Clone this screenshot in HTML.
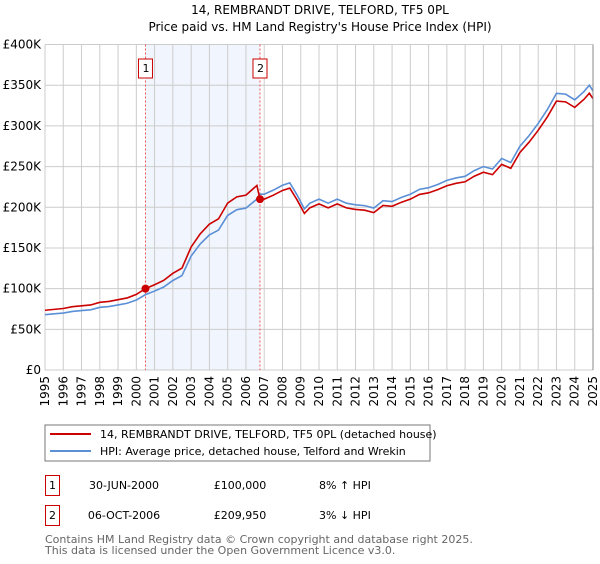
<!DOCTYPE html>
<html><head><meta charset="utf-8"><style>
body{margin:0;background:#fff;width:600px;height:560px;overflow:hidden;font-family:"DejaVu Sans","Liberation Sans",sans-serif}
svg text{font-family:"DejaVu Sans","Liberation Sans",sans-serif}
</style></head><body>
<svg id="chart" width="600" height="560">
<text x="320" y="14" text-anchor="middle" font-size="12">14, REMBRANDT DRIVE, TELFORD, TF5 0PL</text>
<text x="320" y="31" text-anchor="middle" font-size="12">Price paid vs. HM Land Registry's House Price Index (HPI)</text>
<g id="plot"></g>
<g>
<rect x="45" y="425" width="385" height="36" fill="#fff" stroke="#777"/>
<line x1="50" y1="434" x2="91" y2="434" stroke="#cc0000" stroke-width="2"/>
<text x="100" y="438" font-size="11">14, REMBRANDT DRIVE, TELFORD, TF5 0PL (detached house)</text>
<line x1="50" y1="451" x2="91" y2="451" stroke="#5b8fd6" stroke-width="2"/>
<text x="100" y="455" font-size="11">HPI: Average price, detached house, Telford and Wrekin</text>
</g>
<g font-size="11">
<rect x="45.5" y="475.5" width="14" height="20" fill="#fff" stroke="#cc0000"/>
<text x="52.5" y="489" text-anchor="middle">1</text>
<text x="124" y="489" text-anchor="middle">30-JUN-2000</text>
<text x="240" y="489" text-anchor="middle">£100,000</text>
<text x="319" y="489">8% ↑ HPI</text>
<rect x="45.5" y="505.5" width="14" height="20" fill="#fff" stroke="#cc0000"/>
<text x="52.5" y="519" text-anchor="middle">2</text>
<text x="124" y="519" text-anchor="middle">06-OCT-2006</text>
<text x="240" y="519" text-anchor="middle">£209,950</text>
<text x="319" y="519">3% ↓ HPI</text>
</g>
<text x="45" y="543" font-size="11" fill="#666">Contains HM Land Registry data © Crown copyright and database right 2025.</text>
<text x="45" y="554" font-size="11" fill="#666">This data is licensed under the Open Government Licence v3.0.</text>
</svg>
<script>
const hpiYears=[1995,1995.5,1996,1996.5,1997,1997.5,1998,1998.5,1999,1999.5,2000,2000.5,2001,2001.5,2002,2002.5,2003,2003.5,2004,2004.5,2005,2005.5,2006,2006.6,2006.77,2007,2007.5,2008,2008.4,2008.8,2009.2,2009.5,2010,2010.5,2011,2011.5,2012,2012.5,2013,2013.5,2014,2014.5,2015,2015.5,2016,2016.5,2017,2017.5,2018,2018.5,2019,2019.5,2020,2020.5,2021,2021.5,2022,2022.5,2023,2023.5,2024,2024.5,2024.8,2025];
const hpiValues=[68,69,70,72,73,74,77,78,80,82,86,92.6,97,102,110,116,140,155,166,172,190,197,199,210,216,216,221,227,230,215,198,205,210,205,210,205,203,202,199,208,207,212,216,222,224,228,233,236,238,245,250,247,260,255,275,288,303,320,340,339,332,342,350,343];
const sales=[{t:2000.5,v:100},{t:2006.77,v:209.95}];
const yTicks=[0,50,100,150,200,250,300,350,400];
const yTickLabels=["£0","£50K","£100K","£150K","£200K","£250K","£300K","£350K","£400K"];
const xTicks=[1995,1996,1997,1998,1999,2000,2001,2002,2003,2004,2005,2006,2007,2008,2009,2010,2011,2012,2013,2014,2015,2016,2017,2018,2019,2020,2021,2022,2023,2024,2025];
const X0=45,X1=593,Y0=370,Y1=44.5;
const xs=t=>X0+(t-1995)/30*(X1-X0);
const ys=v=>Y0-v/400*(Y0-Y1);
const NS="http://www.w3.org/2000/svg";
const g=document.getElementById('plot');
function mk(tag,attrs){const e=document.createElementNS(NS,tag);for(const k in attrs)e.setAttribute(k,attrs[k]);g.appendChild(e);return e;}
let sh=mk('rect',{x:xs(sales[0].t),y:Y1,width:xs(sales[1].t)-xs(sales[0].t),height:Y0-Y1,fill:'#eef3fc',opacity:0.8});


xTicks.forEach(t=>{
 const l=mk('line',{x1:xs(t),x2:xs(t),y1:Y1,y2:Y0,stroke:'#ccc'});
 
 
 const tx=mk('text',{x:0,y:0,'font-size':12,'text-anchor':'end',transform:`translate(${xs(t)+4},${Y0+6}) rotate(-90)`});
 tx.textContent=t;
 
 
});
yTicks.forEach((v,i)=>{
 const l=mk('line',{x1:X0,x2:X1,y1:ys(v),y2:ys(v),stroke:'#ccc'});
 
 
 const tx=mk('text',{x:X0-4,y:ys(v)+4,'font-size':12,'text-anchor':'end'});
 tx.textContent=yTickLabels[i];
 
 
});
sales.forEach((s,i)=>{
 const l=mk('line',{x1:xs(s.t),x2:xs(s.t),y1:Y1,y2:Y0,stroke:'#e55','stroke-dasharray':'2,2'});
 
 
 const b=mk('rect',{x:xs(s.t)-7,y:59,width:14,height:19,fill:'#fff',stroke:'#cc0000'});
 
 
 const tx=mk('text',{x:xs(s.t)-3,y:72,'font-size':11});
 tx.textContent=i+1;
 
 
});
const hp=mk('polyline',{points:hpiYears.map((t,i)=>xs(t)+','+ys(hpiValues[i])).join(' '),fill:'none',stroke:'#5b8fd6','stroke-width':1.6});


function interp(t){for(let i=1;i<hpiYears.length;i++)if(t<=hpiYears[i]){const f=(t-hpiYears[i-1])/(hpiYears[i]-hpiYears[i-1]);return hpiValues[i-1]+f*(hpiValues[i]-hpiValues[i-1]);}return hpiValues[hpiValues.length-1];}
const f1=sales[0].v/interp(sales[0].t), f2=sales[1].v/interp(sales[1].t);
const pts=[];
hpiYears.forEach((t,i)=>{
 if(t<sales[1].t)pts.push(xs(t)+','+ys(hpiValues[i]*f1));
 else pts.push(xs(t)+','+ys(hpiValues[i]*f2));
});
const pp=mk('polyline',{points:pts.join(' '),fill:'none',stroke:'#cc0000','stroke-width':1.6});


sales.forEach(s=>{
 const c=mk('circle',{cx:xs(s.t),cy:ys(s.v),r:4,fill:'#cc0000'});
 
 
});
const ax=mk('line',{x1:X1,x2:X1,y1:Y1,y2:Y0,stroke:'#888'});


</script>
</body></html>
